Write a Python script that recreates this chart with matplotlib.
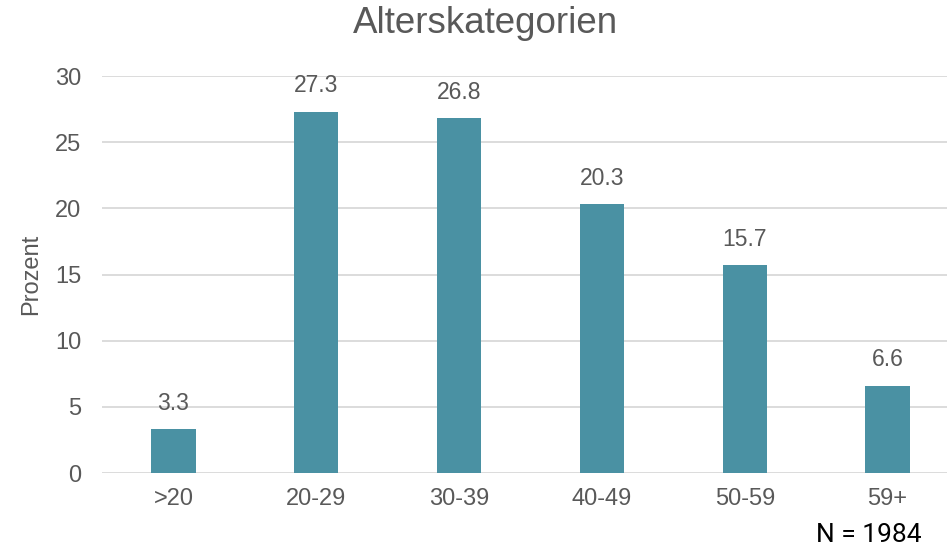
import matplotlib.pyplot as plt

# data
categories = ['>20', '20-29', '30-39', '40-49', '50-59', '59+']
values = [3.3, 27.3, 26.8, 20.3, 15.7, 6.6]
yticks = [0, 5, 10, 15, 20, 25, 30]

bar_color = '#4A91A3'
text_color = '#595959'
grid_color = '#D9D9D9'

plt.rcParams['font.family'] = ['Liberation Sans', 'DejaVu Sans']

fig = plt.figure(figsize=(9.47, 5.48), dpi=100)
ax = fig.add_axes([102 / 947, 1 - 473 / 548, 845 / 947, (473 - 76) / 548])

x = list(range(len(categories)))
bars = ax.bar(x, values, width=0.31, color=bar_color, zorder=3)

for xi, v in zip(x, values):
    ax.text(xi, v + 1.1, f'{v:.1f}', ha='center', va='bottom',
            fontsize=16.5, color=text_color)

ax.set_xlim(-0.5, 5.5 - 12 / 142.8)
ax.set_ylim(0, 30)
ax.set_yticks(yticks)
ax.set_xticks(x)
ax.set_xticklabels(categories)
ax.yaxis.grid(True, color=grid_color, linewidth=1.3, zorder=0)
ax.set_axisbelow(True)
for s in ['top', 'right', 'left', 'bottom']:
    ax.spines[s].set_visible(False)
ax.tick_params(axis='both', length=0, labelsize=17, colors=text_color)
ax.tick_params(axis='x', pad=11)
ax.tick_params(axis='y', pad=15)

ax.set_ylabel('Prozent', fontsize=17, color=text_color, labelpad=9)
fig.text(485 / 947, 1 - 33 / 548, 'Alterskategorien', ha='center', va='baseline',
         fontsize=26.5, color=text_color)
fig.text(869 / 947, 1 - 542 / 548, 'N = 1984', ha='center', va='baseline',
         fontsize=19, color='black', family=['Roboto', 'DejaVu Sans'])

plt.savefig('out.png', dpi=100)
